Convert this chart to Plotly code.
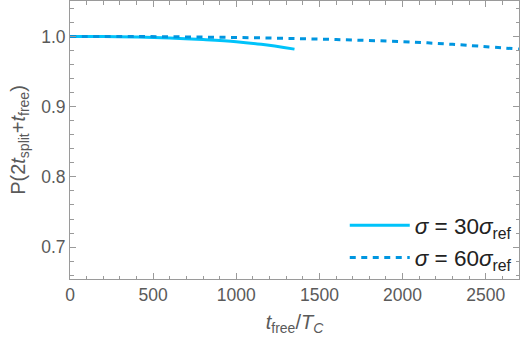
import plotly.graph_objects as go

# sigma = 30 sigma_ref (solid)
x_30 = [0, 200, 400, 600, 800, 1000, 1150, 1350]
p_30 = [1.0, 0.9998, 0.9990, 0.9977, 0.9955, 0.9925, 0.9887, 0.9819]

# sigma = 60 sigma_ref (dashed)
x_60 = [0, 400, 800, 1200, 1600, 2000, 2300, 2700]
p_60 = [1.0, 0.9998, 0.9990, 0.9977, 0.9955, 0.9925, 0.9887, 0.9819]

x_ticks = [0, 500, 1000, 1500, 2000, 2500]
y_ticks = [0.7, 0.8, 0.9, 1.0]
y_tick_labels = ["0.7", "0.8", "0.9", "1.0"]

font_family = "Liberation Sans, Arial, sans-serif"
gray = "#5a5a5a"
frame = "#9a9a9a"

fig = go.Figure()
fig.add_trace(go.Scatter(
    x=x_30, y=p_30, mode="lines",
    line=dict(color="#00c3fa", width=3, shape="spline"),
    name="<i>σ</i> = 30<i>σ</i><sub>ref</sub>"))
fig.add_trace(go.Scatter(
    x=x_60, y=p_60, mode="lines",
    line=dict(color="#0096e0", width=3, dash="6px,5.5px", shape="spline"),
    name="<i>σ</i> = 60<i>σ</i><sub>ref</sub>"))

axis_common = dict(
    showline=True, linecolor=frame, linewidth=1, mirror="ticks",
    ticks="inside", ticklen=6, tickcolor=frame, tickwidth=1,
    showgrid=False, zeroline=False, automargin=False,
    tickfont=dict(family=font_family, size=17.5, color=gray),
)

fig.update_layout(
    width=523, height=343,
    margin=dict(l=70, r=4, t=1, b=64),
    paper_bgcolor="white", plot_bgcolor="white",
    font=dict(family=font_family, size=17, color=gray),
    showlegend=True,
    legend=dict(x=0.995, xanchor="right", y=0.0, yanchor="bottom",
                bgcolor="rgba(0,0,0,0)", font=dict(size=22.5, color="#222222"),
                itemwidth=60, tracegroupgap=0),
    xaxis=dict(range=[0, 2700], tickvals=x_ticks,
               minor=dict(dtick=100, ticks="inside", ticklen=3.5, tickcolor=frame),
               title=dict(text="<i>t</i><sub>free</sub>/<i>T</i><sub><i>C</i></sub>",
                          font=dict(size=20, color=gray), standoff=10),
               **axis_common),
    yaxis=dict(range=[0.6546, 1.0504], tickvals=y_ticks, ticktext=y_tick_labels,
               minor=dict(dtick=0.02, tick0=0.7, ticks="inside", ticklen=3.5, tickcolor=frame),
               title=dict(text="P(2<i>t</i><sub>split</sub>+<i>t</i><sub>free</sub>)",
                          font=dict(size=20, color=gray), standoff=10),
               **axis_common),
)

fig.write_html("out.html", config={"displayModeBar": False},
               post_script="document.body.style.margin='0';document.body.style.overflow='hidden';")
